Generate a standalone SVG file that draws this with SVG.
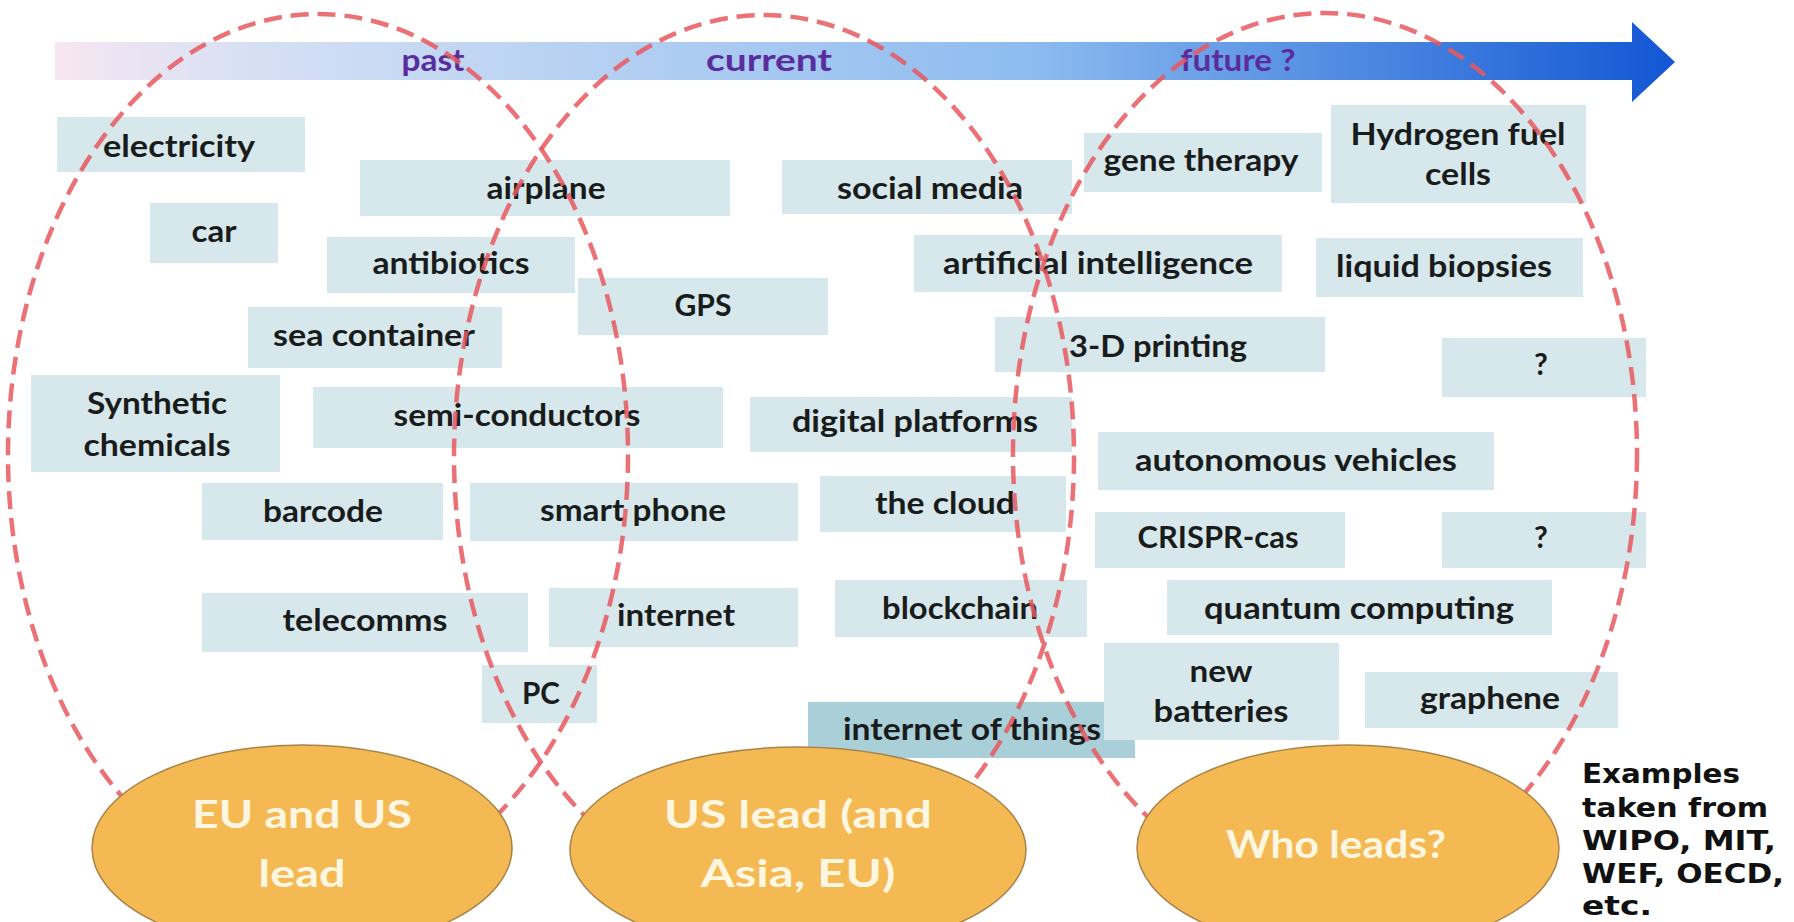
<svg xmlns="http://www.w3.org/2000/svg" width="1794" height="922" viewBox="0 0 1794 922">
<defs>
<linearGradient id="arrowGrad" gradientUnits="userSpaceOnUse" x1="55" y1="0" x2="1675" y2="0">
<stop offset="0" stop-color="#f8e6f2"/>
<stop offset="0.12" stop-color="#d6e0f4"/>
<stop offset="0.35" stop-color="#b3cff2"/>
<stop offset="0.6" stop-color="#8ebcf0"/>
<stop offset="0.8" stop-color="#4f8ae2"/>
<stop offset="1" stop-color="#1256d4"/>
</linearGradient>
<style>
.box{fill:#d7e8ec}
.box2{fill:#a9d0d8}
.lbl{font-family:Lato,"Liberation Sans",sans-serif;font-weight:700;font-size:30px;fill:#1a1c1c;text-anchor:middle}
.time{font-family:Lato,"Liberation Sans",sans-serif;font-weight:700;font-size:30px;fill:#5b2d9c;text-anchor:middle}
.dash{fill:none;stroke:#e8585f;stroke-width:4.5;stroke-dasharray:18 9;opacity:0.85}
.lead{fill:#f5b954;stroke:#a8844a;stroke-width:1.5}
.leadtxt{font-family:Lato,"Liberation Sans",sans-serif;font-weight:700;font-size:38px;fill:#fdf6e0;text-anchor:middle}
.note{font-family:"DejaVu Sans",Verdana,sans-serif;font-weight:700;font-size:27px;fill:#111111}
</style>
</defs>
<rect width="1794" height="922" fill="#ffffff"/>

<g id="connectors">
<g id="timeline">
<polygon points="55,42 1632,42 1632,22 1675,62 1632,102 1632,80 55,80" fill="url(#arrowGrad)"/>
<text class="time" x="433" y="71" textLength="63" lengthAdjust="spacingAndGlyphs">past</text>
<text class="time" x="769" y="71" textLength="126" lengthAdjust="spacingAndGlyphs">current</text>
<text class="time" x="1238" y="71" textLength="115" lengthAdjust="spacingAndGlyphs">future ?</text>
</g>
</g>

<g id="n-electricity"><rect class="box" x="57" y="117" width="248" height="55"/><text class="lbl" x="179" y="157" textLength="152" lengthAdjust="spacingAndGlyphs">electricity</text></g>
<g id="n-car"><rect class="box" x="150" y="203" width="128" height="60"/><text class="lbl" x="214" y="242" textLength="45" lengthAdjust="spacingAndGlyphs">car</text></g>
<g id="n-airplane"><rect class="box" x="360" y="160" width="370" height="56"/><text class="lbl" x="546" y="199" textLength="119" lengthAdjust="spacingAndGlyphs">airplane</text></g>
<g id="n-antibiotics"><rect class="box" x="327" y="237" width="248" height="56"/><text class="lbl" x="451" y="274" textLength="157" lengthAdjust="spacingAndGlyphs">antibiotics</text></g>
<g id="n-gps"><rect class="box" x="578" y="278" width="250" height="57"/><text class="lbl" x="703" y="316" textLength="57" lengthAdjust="spacingAndGlyphs">GPS</text></g>
<g id="n-sea-container"><rect class="box" x="248" y="307" width="254" height="61"/><text class="lbl" x="374" y="346" textLength="202" lengthAdjust="spacingAndGlyphs">sea container</text></g>
<g id="n-synthetic-chemicals"><rect class="box" x="31" y="375" width="249" height="97"/><text class="lbl" x="157" y="414" textLength="140" lengthAdjust="spacingAndGlyphs">Synthetic</text><text class="lbl" x="157" y="456" textLength="147" lengthAdjust="spacingAndGlyphs">chemicals</text></g>
<g id="n-semi-conductors"><rect class="box" x="313" y="387" width="410" height="61"/><text class="lbl" x="517" y="426" textLength="247" lengthAdjust="spacingAndGlyphs">semi-conductors</text></g>
<g id="n-digital-platforms"><rect class="box" x="750" y="397" width="322" height="55"/><text class="lbl" x="915" y="432" textLength="246" lengthAdjust="spacingAndGlyphs">digital platforms</text></g>
<g id="n-barcode"><rect class="box" x="202" y="483" width="241" height="57"/><text class="lbl" x="323" y="522" textLength="120" lengthAdjust="spacingAndGlyphs">barcode</text></g>
<g id="n-smart-phone"><rect class="box" x="470" y="483" width="328" height="58"/><text class="lbl" x="633" y="521" textLength="186" lengthAdjust="spacingAndGlyphs">smart phone</text></g>
<g id="n-the-cloud"><rect class="box" x="820" y="476" width="246" height="56"/><text class="lbl" x="945" y="514" textLength="140" lengthAdjust="spacingAndGlyphs">the cloud</text></g>
<g id="n-telecomms"><rect class="box" x="202" y="593" width="326" height="59"/><text class="lbl" x="365" y="631" textLength="165" lengthAdjust="spacingAndGlyphs">telecomms</text></g>
<g id="n-internet"><rect class="box" x="549" y="588" width="249" height="59"/><text class="lbl" x="676" y="626" textLength="118" lengthAdjust="spacingAndGlyphs">internet</text></g>
<g id="n-blockchain"><rect class="box" x="835" y="580" width="252" height="57"/><text class="lbl" x="960" y="619" textLength="156" lengthAdjust="spacingAndGlyphs">blockchain</text></g>
<g id="n-pc"><rect class="box" x="482" y="665" width="115" height="58"/><text class="lbl" x="541" y="704" textLength="38" lengthAdjust="spacingAndGlyphs">PC</text></g>
<g id="n-internet-of-things"><rect class="box2" x="808" y="702" width="327" height="56"/><text class="lbl" x="972" y="740" textLength="258" lengthAdjust="spacingAndGlyphs">internet of things</text></g>
<g id="n-social-media"><rect class="box" x="782" y="160" width="290" height="54"/><text class="lbl" x="930" y="199" textLength="186" lengthAdjust="spacingAndGlyphs">social media</text></g>
<g id="n-gene-therapy"><rect class="box" x="1084" y="133" width="238" height="59"/><text class="lbl" x="1201" y="171" textLength="195" lengthAdjust="spacingAndGlyphs">gene therapy</text></g>
<g id="n-hydrogen"><rect class="box" x="1331" y="105" width="255" height="98"/><text class="lbl" x="1458" y="145" textLength="215" lengthAdjust="spacingAndGlyphs">Hydrogen fuel</text><text class="lbl" x="1458" y="185" textLength="66" lengthAdjust="spacingAndGlyphs">cells</text></g>
<g id="n-ai"><rect class="box" x="914" y="235" width="368" height="57"/><text class="lbl" x="1098" y="274" textLength="310" lengthAdjust="spacingAndGlyphs">artificial intelligence</text></g>
<g id="n-liquid-biopsies"><rect class="box" x="1316" y="238" width="267" height="59"/><text class="lbl" x="1444" y="277" textLength="216" lengthAdjust="spacingAndGlyphs">liquid biopsies</text></g>
<g id="n-3d-printing"><rect class="box" x="995" y="317" width="330" height="55"/><text class="lbl" x="1158" y="357" textLength="178" lengthAdjust="spacingAndGlyphs">3-D printing</text></g>
<g id="n-q1"><rect class="box" x="1442" y="338" width="204" height="59"/><text class="lbl" x="1541" y="375">?</text></g>
<g id="n-autonomous"><rect class="box" x="1098" y="432" width="396" height="58"/><text class="lbl" x="1296" y="471" textLength="322" lengthAdjust="spacingAndGlyphs">autonomous vehicles</text></g>
<g id="n-crispr"><rect class="box" x="1095" y="512" width="250" height="56"/><text class="lbl" x="1218" y="548" textLength="161" lengthAdjust="spacingAndGlyphs">CRISPR-cas</text></g>
<g id="n-q2"><rect class="box" x="1442" y="512" width="204" height="56"/><text class="lbl" x="1541" y="548">?</text></g>
<g id="n-quantum"><rect class="box" x="1167" y="580" width="385" height="55"/><text class="lbl" x="1359" y="619" textLength="310" lengthAdjust="spacingAndGlyphs">quantum computing</text></g>
<g id="n-new-batteries"><rect class="box" x="1104" y="643" width="235" height="97"/><text class="lbl" x="1221" y="682" textLength="63" lengthAdjust="spacingAndGlyphs">new</text><text class="lbl" x="1221" y="722" textLength="135" lengthAdjust="spacingAndGlyphs">batteries</text></g>
<g id="n-graphene"><rect class="box" x="1365" y="672" width="253" height="56"/><text class="lbl" x="1490" y="709" textLength="140" lengthAdjust="spacingAndGlyphs">graphene</text></g>

<g id="regions">
<ellipse class="dash" cx="318" cy="455" rx="310" ry="441"/>
<ellipse class="dash" cx="764" cy="456" rx="310" ry="441"/>
<ellipse class="dash" cx="1325" cy="454" rx="312" ry="441"/>
</g>

<g id="n-eu-us-lead"><ellipse class="lead" cx="302" cy="848" rx="210" ry="103"/><text class="leadtxt" x="302" y="828" textLength="220" lengthAdjust="spacingAndGlyphs">EU and US</text><text class="leadtxt" x="302" y="887" textLength="87" lengthAdjust="spacingAndGlyphs">lead</text></g>
<g id="n-us-lead"><ellipse class="lead" cx="798" cy="850" rx="228" ry="103"/><text class="leadtxt" x="798" y="828" textLength="268" lengthAdjust="spacingAndGlyphs">US lead (and</text><text class="leadtxt" x="798" y="887" textLength="195" lengthAdjust="spacingAndGlyphs">Asia, EU)</text></g>
<g id="n-who-leads"><ellipse class="lead" cx="1348" cy="848" rx="211" ry="103"/><text class="leadtxt" x="1336" y="858" textLength="220" lengthAdjust="spacingAndGlyphs">Who leads?</text></g>

<g id="n-examples">
<text class="note" x="1582" y="783" textLength="158" lengthAdjust="spacingAndGlyphs">Examples</text>
<text class="note" x="1582" y="817" textLength="186" lengthAdjust="spacingAndGlyphs">taken from</text>
<text class="note" x="1582" y="850" textLength="194" lengthAdjust="spacingAndGlyphs">WIPO, MIT,</text>
<text class="note" x="1582" y="883" textLength="202" lengthAdjust="spacingAndGlyphs">WEF, OECD,</text>
<text class="note" x="1582" y="915" textLength="70" lengthAdjust="spacingAndGlyphs">etc.</text>
</g>
</svg>
